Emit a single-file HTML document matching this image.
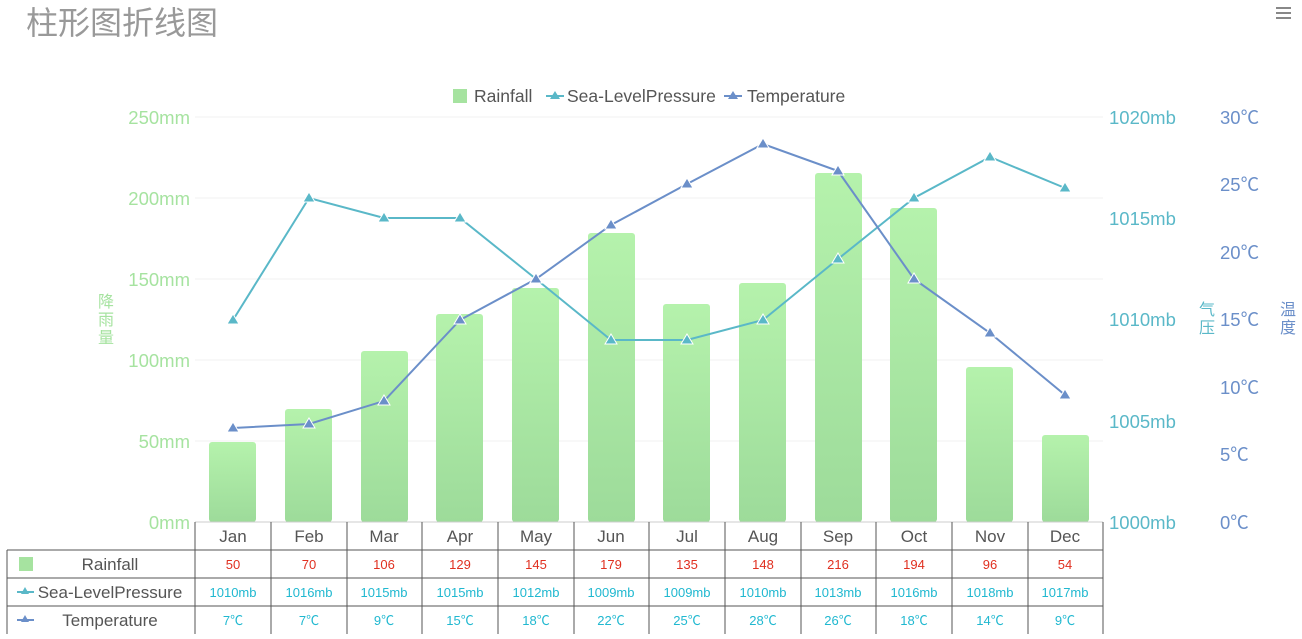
<!DOCTYPE html>
<html><head><meta charset="utf-8"><style>
body{margin:0;background:#fff;width:1302px;height:634px;overflow:hidden}
text{font-family:"Liberation Sans","Noto Sans CJK SC",sans-serif}
</style></head><body>
<svg width="1302" height="634" xmlns="http://www.w3.org/2000/svg">
<defs><linearGradient id="g" x1="0" y1="0" x2="0" y2="1"><stop offset="0" stop-color="#b5f2ac"/><stop offset="1" stop-color="#9ddb9a"/></linearGradient></defs>
<text x="26" y="34" font-size="32" fill="#999">柱形图折线图</text>
<g stroke="#888" stroke-width="2"><line x1="1276" y1="8" x2="1291" y2="8"/><line x1="1276" y1="13" x2="1291" y2="13"/><line x1="1276" y1="18" x2="1291" y2="18"/></g>
<!-- legend -->
<rect x="453" y="89" width="14" height="14" fill="#a6e3a0"/>
<text x="474" y="102" font-size="17.5" fill="#555">Rainfall</text>
<line x1="546" y1="96" x2="564" y2="96" stroke="#5ab8c8" stroke-width="2"/><path d="M555 91 L560 99 L550 99Z" fill="#5ab8c8"/>
<text x="567" y="102" font-size="17.5" fill="#555">Sea-LevelPressure</text>
<line x1="724" y1="96" x2="742" y2="96" stroke="#6b8fc9" stroke-width="2"/><path d="M733 91 L738 99 L728 99Z" fill="#6b8fc9"/>
<text x="747" y="102" font-size="17.5" fill="#555">Temperature</text>
<!-- grid -->
<g stroke="#f0f0f0"><line x1="195" y1="117" x2="1103" y2="117"/><line x1="195" y1="198" x2="1103" y2="198"/><line x1="195" y1="279" x2="1103" y2="279"/><line x1="195" y1="360" x2="1103" y2="360"/><line x1="195" y1="441" x2="1103" y2="441"/></g>
<g font-size="18.5" fill="#a6e3a0" text-anchor="end"><text x="190" y="124">250mm</text><text x="190" y="205">200mm</text><text x="190" y="286">150mm</text><text x="190" y="367">100mm</text><text x="190" y="448">50mm</text><text x="190" y="529">0mm</text></g>
<g font-size="16" fill="#a6e3a0"><text x="98" y="307">降</text><text x="98" y="325">雨</text><text x="98" y="343">量</text></g>
<g font-size="18.5" fill="#5ab8c8"><text x="1109" y="124">1020mb</text><text x="1109" y="225">1015mb</text><text x="1109" y="326">1010mb</text><text x="1109" y="428">1005mb</text><text x="1109" y="529">1000mb</text></g>
<g font-size="16" fill="#5ab8c8"><text x="1199" y="315">气</text><text x="1199" y="333">压</text></g>
<g font-size="18.5" fill="#6b8fc9"><text x="1220" y="124">30℃</text><text x="1220" y="191">25℃</text><text x="1220" y="259">20℃</text><text x="1220" y="326">15℃</text><text x="1220" y="394">10℃</text><text x="1220" y="461">5℃</text><text x="1220" y="529">0℃</text></g>
<g font-size="16" fill="#6b8fc9"><text x="1280" y="315">温</text><text x="1280" y="333">度</text></g>
<!-- bars -->
<g fill="url(#g)">
<rect x="209" y="442" width="47" height="80" rx="3"/><rect x="285" y="409" width="47" height="113" rx="3"/><rect x="361" y="351" width="47" height="171" rx="3"/><rect x="436" y="314" width="47" height="208" rx="3"/><rect x="512" y="288" width="47" height="234" rx="3"/><rect x="588" y="233" width="47" height="289" rx="3"/><rect x="663" y="304" width="47" height="218" rx="3"/><rect x="739" y="283" width="47" height="239" rx="3"/><rect x="815" y="173" width="47" height="349" rx="3"/><rect x="890" y="208" width="47" height="314" rx="3"/><rect x="966" y="367" width="47" height="155" rx="3"/><rect x="1042" y="435" width="47" height="87" rx="3"/>
</g>
<polyline fill="none" stroke="#5ab8c8" stroke-width="2" points="233,320 309,198 384,218 460,218 536,279 611,340 687,340 763,320 838,259 914,198 990,157 1065,188"/>
<polyline fill="none" stroke="#6b8fc9" stroke-width="2" points="233,428 309,424 384,401 460,320 536,279 611,225 687,184 763,144 838,171 914,279 990,333 1065,395"/>
<g fill="#5ab8c8" stroke="#fff" stroke-width="1">
<path d="M233 314l6 10h-12z"/><path d="M309 192l6 10h-12z"/><path d="M384 212l6 10h-12z"/><path d="M460 212l6 10h-12z"/><path d="M536 273l6 10h-12z"/><path d="M611 334l6 10h-12z"/><path d="M687 334l6 10h-12z"/><path d="M763 314l6 10h-12z"/><path d="M838 253l6 10h-12z"/><path d="M914 192l6 10h-12z"/><path d="M990 151l6 10h-12z"/><path d="M1065 182l6 10h-12z"/></g>
<g fill="#6b8fc9" stroke="#fff" stroke-width="1">
<path d="M233 422l6 10h-12z"/><path d="M309 418l6 10h-12z"/><path d="M384 395l6 10h-12z"/><path d="M460 314l6 10h-12z"/><path d="M536 273l6 10h-12z"/><path d="M611 219l6 10h-12z"/><path d="M687 178l6 10h-12z"/><path d="M763 138l6 10h-12z"/><path d="M838 165l6 10h-12z"/><path d="M914 273l6 10h-12z"/><path d="M990 327l6 10h-12z"/><path d="M1065 389l6 10h-12z"/></g>
<!-- table -->
<g stroke="#555" stroke-width="1" fill="none">
<line x1="195" y1="522" x2="1103" y2="522" stroke="#ccc"/>
<line x1="7" y1="550" x2="1103" y2="550"/><line x1="7" y1="578" x2="1103" y2="578"/><line x1="7" y1="606" x2="1103" y2="606"/><line x1="7" y1="550" x2="7" y2="634"/>
<line x1="195" y1="522" x2="195" y2="634"/><line x1="271" y1="522" x2="271" y2="634"/><line x1="347" y1="522" x2="347" y2="634"/><line x1="422" y1="522" x2="422" y2="634"/><line x1="498" y1="522" x2="498" y2="634"/><line x1="574" y1="522" x2="574" y2="634"/><line x1="649" y1="522" x2="649" y2="634"/><line x1="725" y1="522" x2="725" y2="634"/><line x1="801" y1="522" x2="801" y2="634"/><line x1="876" y1="522" x2="876" y2="634"/><line x1="952" y1="522" x2="952" y2="634"/><line x1="1028" y1="522" x2="1028" y2="634"/><line x1="1103" y1="522" x2="1103" y2="634"/>
</g>
<g font-size="17" fill="#555" text-anchor="middle"><text x="233" y="542">Jan</text><text x="309" y="542">Feb</text><text x="384" y="542">Mar</text><text x="460" y="542">Apr</text><text x="536" y="542">May</text><text x="611" y="542">Jun</text><text x="687" y="542">Jul</text><text x="763" y="542">Aug</text><text x="838" y="542">Sep</text><text x="914" y="542">Oct</text><text x="990" y="542">Nov</text><text x="1065" y="542">Dec</text></g>
<rect x="19" y="557" width="14" height="14" fill="#a6e3a0"/>
<text x="110" y="570" font-size="17" fill="#555" text-anchor="middle">Rainfall</text>
<line x1="17" y1="592" x2="34" y2="592" stroke="#5ab8c8" stroke-width="2"/><path d="M25 587l4 7h-8z" fill="#5ab8c8"/>
<text x="110" y="598" font-size="17" fill="#555" text-anchor="middle">Sea-LevelPressure</text>
<line x1="17" y1="620" x2="34" y2="620" stroke="#6b8fc9" stroke-width="2"/><path d="M25 615l4 7h-8z" fill="#6b8fc9"/>
<text x="110" y="626" font-size="17" fill="#555" text-anchor="middle">Temperature</text>
<g font-size="13" fill="#e03020" text-anchor="middle" font-family="Liberation Serif,serif"><text x="233" y="569">50</text><text x="309" y="569">70</text><text x="384" y="569">106</text><text x="460" y="569">129</text><text x="536" y="569">145</text><text x="611" y="569">179</text><text x="687" y="569">135</text><text x="763" y="569">148</text><text x="838" y="569">216</text><text x="914" y="569">194</text><text x="990" y="569">96</text><text x="1065" y="569">54</text></g>
<g font-size="13" fill="#20b8d0" text-anchor="middle"><text x="233" y="597">1010mb</text><text x="309" y="597">1016mb</text><text x="384" y="597">1015mb</text><text x="460" y="597">1015mb</text><text x="536" y="597">1012mb</text><text x="611" y="597">1009mb</text><text x="687" y="597">1009mb</text><text x="763" y="597">1010mb</text><text x="838" y="597">1013mb</text><text x="914" y="597">1016mb</text><text x="990" y="597">1018mb</text><text x="1065" y="597">1017mb</text>
<text x="233" y="625">7℃</text><text x="309" y="625">7℃</text><text x="384" y="625">9℃</text><text x="460" y="625">15℃</text><text x="536" y="625">18℃</text><text x="611" y="625">22℃</text><text x="687" y="625">25℃</text><text x="763" y="625">28℃</text><text x="838" y="625">26℃</text><text x="914" y="625">18℃</text><text x="990" y="625">14℃</text><text x="1065" y="625">9℃</text></g>
</svg>
</body></html>
